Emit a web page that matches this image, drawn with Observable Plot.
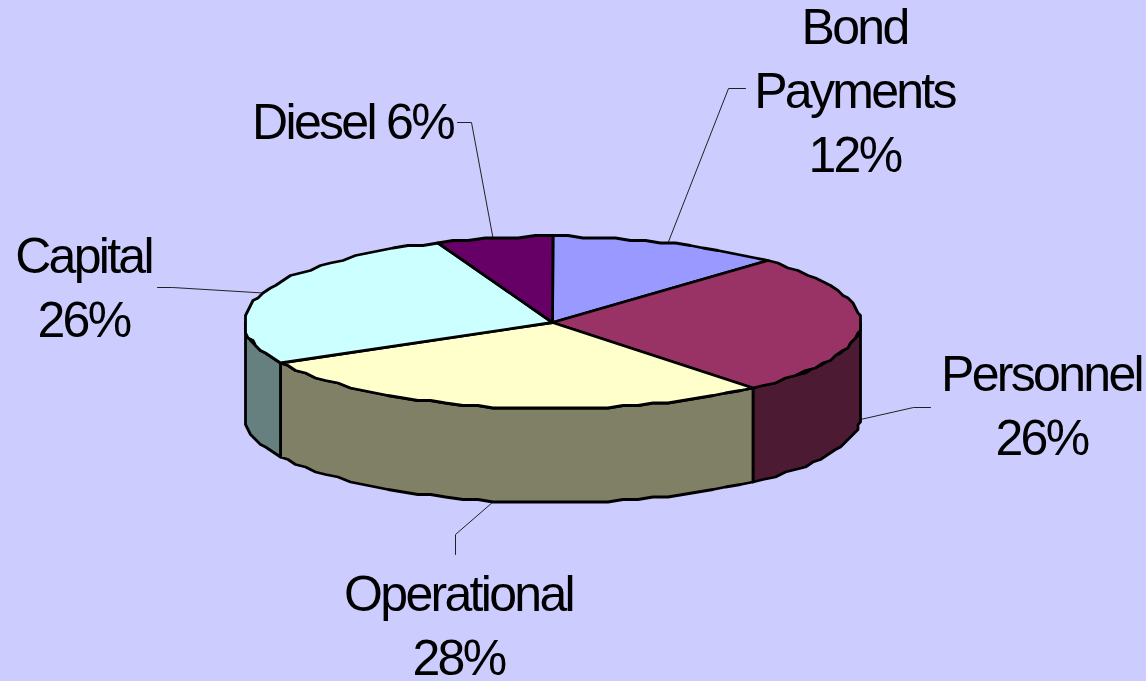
<!DOCTYPE html>
<html>
<head>
<meta charset="utf-8">
<title>Budget shares</title>
<script src="https://cdn.jsdelivr.net/npm/d3@7"></script>
<script src="https://cdn.jsdelivr.net/npm/@observablehq/plot@0.6"></script>
<style>
  html, body { margin: 0; padding: 0; background: #CCCCFF; overflow: hidden; }
  svg { display: block; }
  svg text { letter-spacing: -2.7px; }
</style>
</head>
<body>
<div id="chart"></div>
<script>
// Budget categories, clockwise from twelve o'clock.
const categories = ["Bond Payments", "Personnel", "Operational", "Capital", "Diesel"];
const shares = [12, 26, 28, 26, 6];
const labelTexts = ["Bond\nPayments\n12%", "Personnel\n26%", "Operational\n28%", "Capital\n26%", "Diesel 6%"];
const topColors = ["#9999FF", "#993366", "#FFFFCC", "#CCFFFF", "#660066"];
const sideColors = ["#4D4D80", "#4D1A33", "#808066", "#668080", "#330033"];

const W = 1146, H = 681;

// Tilted disc: centre, radii and thickness in plot units.
const disc = {cx: 552, cy: 322, rx: 308, ry: 86, depth: 94};
// The rim is a coarse polygon snapped to a grid, which gives its stepped outline.
const rimStep = 3, rimGrid = 2.5;
const snap = (v) => Math.round(v / rimGrid) * rimGrid;

const rad = (deg) => (deg * Math.PI) / 180;
const rimPoint = (deg, drop = 0) => ({
  x: snap(disc.cx + disc.rx * Math.sin(rad(deg))),
  y: snap(disc.cy - disc.ry * Math.cos(rad(deg))) + drop
});
const arc = (a0, a1, drop = 0) => {
  const pts = [];
  const n = Math.max(1, Math.round(Math.abs(a1 - a0) / rimStep));
  for (let i = 0; i <= n; ++i) pts.push(rimPoint(a0 + ((a1 - a0) * i) / n, drop));
  return pts;
};

// Slice angles from the shares.
const total = d3.sum(shares);
let running = 0;
const slices = categories.map((name, i) => {
  const a0 = (running / total) * 360;
  running += shares[i];
  const a1 = (running / total) * 360;
  return {name, a0, a1, mid: (a0 + a1) / 2, share: shares[i]};
});

// Flat tops.
const topFaces = slices.flatMap((s) =>
  [{x: disc.cx, y: disc.cy}, ...arc(s.a0, s.a1), {x: disc.cx, y: disc.cy}].map((p) => ({...p, key: s.name}))
);

// Wall of each slice, for the front half of the disc only.
const sideFaces = slices
  .filter((s) => s.a1 > 90 && s.a0 < 270)
  .flatMap((s) => {
    const a0 = Math.max(s.a0, 90), a1 = Math.min(s.a1, 270);
    const upper = arc(a0, a1);
    const lower = arc(a1, a0, disc.depth);
    return [...upper, ...lower, upper[0]].map((p) => ({...p, key: s.name + " side"}));
  });

// Label placement: elbow and end of each leader, then the text anchor.
const leaderElbows = [[728, 88, 745, 88], [913, 407, 930, 407], [455, 534, 455, 554], [172, 287, 157, 287], [471, 122, 457, 122]];
const labelAnchors = [[854, -2], [1041, 345], [458, 565], [83, 227], [352, 93]];

const leaders = slices.flatMap((s, i) => {
  const front = s.mid >= 80 && s.mid <= 280;
  const p = rimPoint(s.mid, front ? disc.depth : 0);
  const [ex, ey, fx, fy] = leaderElbows[i];
  return [{x: p.x, y: p.y, key: s.name}, {x: ex, y: ey, key: s.name}, {x: fx, y: fy, key: s.name}];
});

const labels = slices.map((s, i) => ({text: labelTexts[i], x: labelAnchors[i][0], y: labelAnchors[i][1]}));

const chart = Plot.plot({
  width: W,
  height: H,
  margin: 0,
  style: {background: "#CCCCFF", overflow: "hidden"},
  x: {domain: [0, W], range: [0, W], axis: null},
  y: {domain: [0, H], range: [0, H], axis: null},
  color: {
    domain: [...categories, ...categories.map((c) => c + " side")],
    range: [...topColors, ...sideColors]
  },
  marks: [
    Plot.line(leaders, {x: "x", y: "y", z: "key", stroke: "#222", strokeWidth: 1, curve: "linear"}),
    Plot.line(sideFaces, {x: "x", y: "y", z: "key", fill: "key", stroke: "#000", strokeWidth: 2.8, curve: "linear"}),
    Plot.line(topFaces, {x: "x", y: "y", z: "key", fill: "key", stroke: "#000", strokeWidth: 2.8, curve: "linear"}),
    Plot.text(labels, {
      x: "x",
      y: "y",
      text: "text",
      lineAnchor: "top",
      lineHeight: 1.28,
      fontSize: 50,
      fontFamily: "'Liberation Sans', Arial, sans-serif",
      fill: "#000"
    })
  ]
});

document.getElementById("chart").append(chart);
</script>
</body>
</html>
